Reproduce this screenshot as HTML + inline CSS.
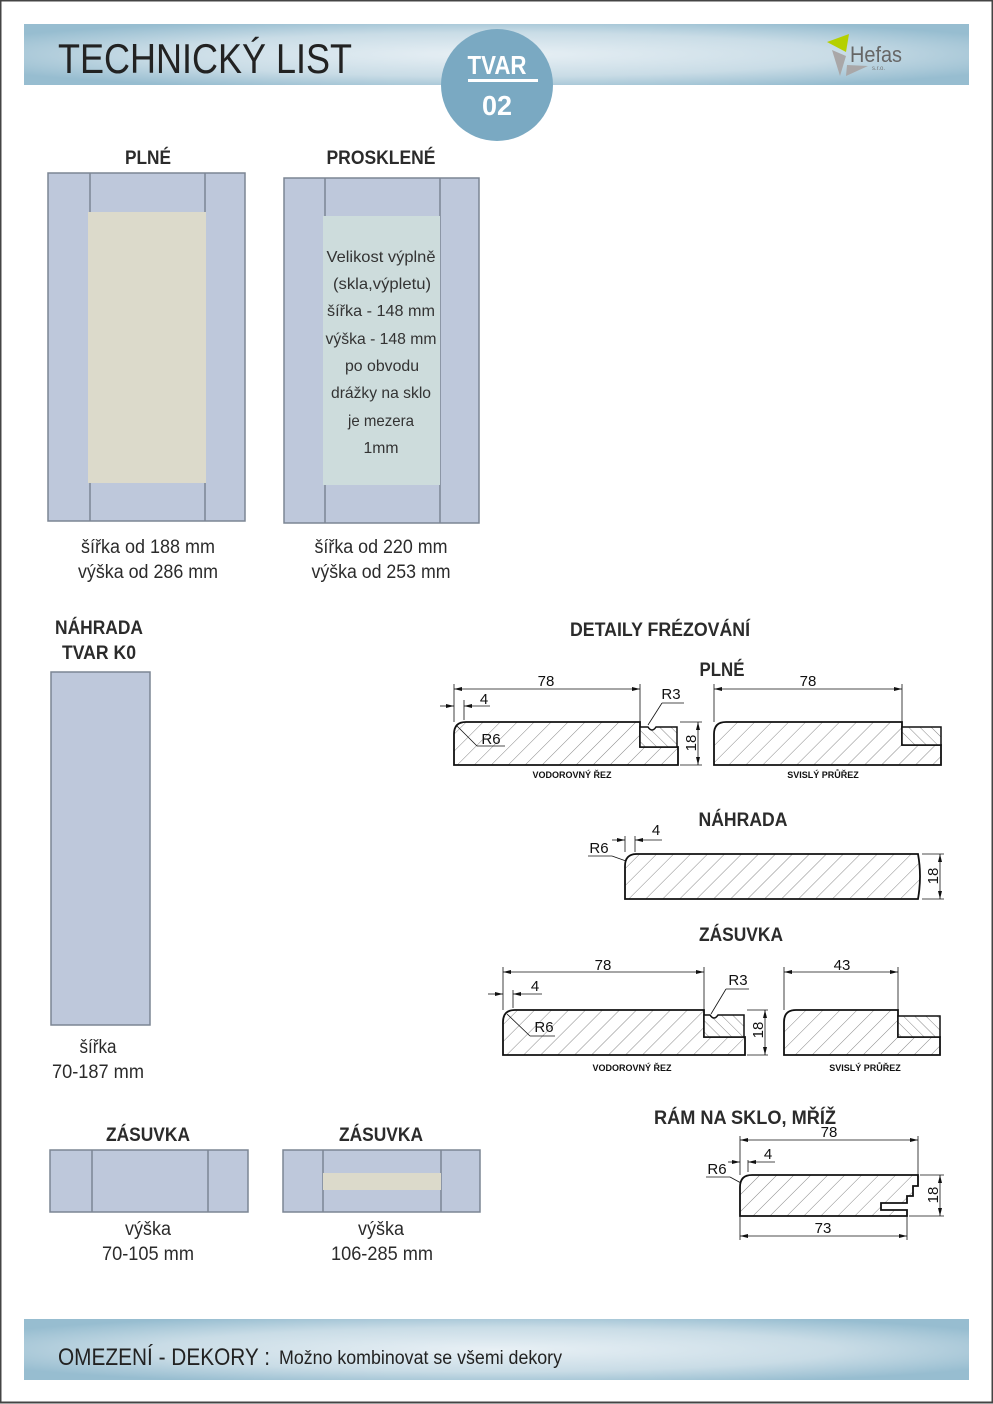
<!DOCTYPE html>
<html><head><meta charset="utf-8">
<style>
html,body{margin:0;padding:0;background:#fff;}
svg{display:block;}
text{font-family:"Liberation Sans Narrow","Liberation Sans",sans-serif;}
.h{font-weight:bold;fill:#2b2b2b;font-size:19px;}
.t{fill:#2b2b2b;font-size:19px;}
.d{font-family:"Liberation Sans",sans-serif;font-size:15px;fill:#111;}
.s{font-family:"Liberation Sans",sans-serif;font-size:9px;font-weight:bold;fill:#111;}
.p{stroke:#111;stroke-width:1.8;fill:url(#hat);}
.q{stroke:#111;stroke-width:1.5;fill:url(#hat2);}
.l{stroke:#111;stroke-width:0.8;fill:none;}
.fr{fill:#bec8db;stroke:#7c8594;stroke-width:1.5;}
.ln{stroke:#7c8594;stroke-width:1.5;}
</style></head><body>
<svg width="993" height="1404" viewBox="0 0 993 1404" xmlns="http://www.w3.org/2000/svg">
<defs>
<radialGradient id="bg" cx="0.5" cy="0.5" r="0.6">
<stop offset="0" stop-color="#e8f0f5"/><stop offset="0.6" stop-color="#c9dce6"/><stop offset="1" stop-color="#97bdd0"/></radialGradient>
<pattern id="hat" width="12" height="12" patternUnits="userSpaceOnUse" patternTransform="rotate(45)">
<rect width="12" height="12" fill="#fff"/><line x1="0" y1="0" x2="0" y2="12" stroke="#555" stroke-width="0.7"/></pattern>
<pattern id="hat2" width="8" height="8" patternUnits="userSpaceOnUse" patternTransform="rotate(-45)">
<rect width="8" height="8" fill="#fff"/><line x1="0" y1="0" x2="0" y2="8" stroke="#555" stroke-width="0.7"/></pattern>
<marker id="ar" markerWidth="8" markerHeight="6" refX="8" refY="3" orient="auto-start-reverse" markerUnits="userSpaceOnUse"><path d="M0,1 L8,3 L0,5z" fill="#111"/></marker>
</defs>
<rect x="0.5" y="0.5" width="992" height="1402" fill="#fff" stroke="#444" stroke-width="2"/>
<!-- header -->
<rect x="24" y="24" width="945" height="61" fill="url(#bg)"/>
<text x="58" y="73" font-size="42" fill="#222" textLength="294" lengthAdjust="spacingAndGlyphs">TECHNICKÝ LIST</text>
<ellipse cx="497" cy="85" rx="56" ry="56" fill="#7aa9c2"/>
<text x="497" y="74" text-anchor="middle" font-size="26" font-weight="bold" fill="#fff" textLength="59" lengthAdjust="spacingAndGlyphs">TVAR</text>
<rect x="468" y="79" width="70" height="3" fill="#fff"/>
<text x="497" y="115" text-anchor="middle" font-size="28" font-weight="bold" fill="#fff" textLength="30" lengthAdjust="spacingAndGlyphs">02</text>
<!-- logo -->
<polygon points="827,42 849,34 846,52" fill="#b5d000"/>
<polygon points="832,50 846,56 840,76" fill="#a9a7a8"/>
<polygon points="847,65 868,66 846,76" fill="#a9a7a8"/>
<text x="850" y="62" font-size="22" fill="#666" textLength="52" lengthAdjust="spacingAndGlyphs">Hefas</text>
<text x="872" y="70" font-size="6" fill="#777">s.r.o.</text>
<!-- footer -->
<rect x="24" y="1319" width="945" height="61" fill="url(#bg)"/>
<text x="58" y="1365" font-size="24" fill="#222" textLength="212" lengthAdjust="spacingAndGlyphs">OMEZENÍ - DEKORY :</text>
<text x="279" y="1364" font-size="19" fill="#222" textLength="283" lengthAdjust="spacingAndGlyphs">Možno kombinovat se všemi dekory</text>

<!-- doors -->
<text x="148" y="164" text-anchor="middle" class="h" textLength="46" lengthAdjust="spacingAndGlyphs">PLNÉ</text>
<text x="381" y="164" text-anchor="middle" class="h" textLength="109" lengthAdjust="spacingAndGlyphs">PROSKLENÉ</text>
<rect x="48" y="173" width="197" height="348" class="fr"/>
<line x1="90" y1="173" x2="90" y2="521" class="ln"/><line x1="205" y1="173" x2="205" y2="521" class="ln"/>
<rect x="88" y="212" width="118" height="271" fill="#dcdacb"/>
<rect x="284" y="178" width="195" height="345" class="fr"/>
<line x1="325" y1="178" x2="325" y2="523" class="ln"/><line x1="440" y1="178" x2="440" y2="523" class="ln"/>
<rect x="323" y="216" width="117" height="269" fill="#cddcdc"/>
<g font-size="16" fill="#333" text-anchor="middle" lengthAdjust="spacingAndGlyphs">
<text x="381" y="262" textLength="109" lengthAdjust="spacingAndGlyphs">Velikost výplně</text>
<text x="382" y="289" textLength="98" lengthAdjust="spacingAndGlyphs">(skla,výpletu)</text>
<text x="381" y="316" textLength="108" lengthAdjust="spacingAndGlyphs">šířka - 148 mm</text>
<text x="381" y="344" textLength="111" lengthAdjust="spacingAndGlyphs">výška - 148 mm</text>
<text x="382" y="371" textLength="74" lengthAdjust="spacingAndGlyphs">po obvodu</text>
<text x="381" y="398" textLength="100" lengthAdjust="spacingAndGlyphs">drážky na sklo</text>
<text x="381" y="426" textLength="66" lengthAdjust="spacingAndGlyphs">je mezera</text>
<text x="381" y="453" textLength="35" lengthAdjust="spacingAndGlyphs">1mm</text></g>
<g class="t" text-anchor="middle">
<text x="148" y="553" textLength="134" lengthAdjust="spacingAndGlyphs">šířka od 188 mm</text>
<text x="148" y="578" textLength="140" lengthAdjust="spacingAndGlyphs">výška od 286 mm</text>
<text x="381" y="553" textLength="133" lengthAdjust="spacingAndGlyphs">šířka od 220 mm</text>
<text x="381" y="578" textLength="139" lengthAdjust="spacingAndGlyphs">výška od 253 mm</text>
<text x="98" y="1053" textLength="37" lengthAdjust="spacingAndGlyphs">šířka</text>
<text x="98" y="1078" textLength="92" lengthAdjust="spacingAndGlyphs">70-187 mm</text>
<text x="148" y="1235" textLength="46" lengthAdjust="spacingAndGlyphs">výška</text>
<text x="148" y="1260" textLength="92" lengthAdjust="spacingAndGlyphs">70-105 mm</text>
<text x="381" y="1235" textLength="46" lengthAdjust="spacingAndGlyphs">výška</text>
<text x="382" y="1260" textLength="102" lengthAdjust="spacingAndGlyphs">106-285 mm</text></g>
<text x="99" y="634" text-anchor="middle" class="h" textLength="88" lengthAdjust="spacingAndGlyphs">NÁHRADA</text>
<text x="99" y="659" text-anchor="middle" class="h" textLength="74" lengthAdjust="spacingAndGlyphs">TVAR K0</text>
<rect x="51" y="672" width="99" height="353" class="fr"/>
<text x="148" y="1141" text-anchor="middle" class="h" textLength="84" lengthAdjust="spacingAndGlyphs">ZÁSUVKA</text>
<text x="381" y="1141" text-anchor="middle" class="h" textLength="84" lengthAdjust="spacingAndGlyphs">ZÁSUVKA</text>
<rect x="50" y="1150" width="198" height="62" class="fr"/>
<line x1="92" y1="1150" x2="92" y2="1212" class="ln"/><line x1="208" y1="1150" x2="208" y2="1212" class="ln"/>
<rect x="283" y="1150" width="197" height="62" class="fr"/>
<line x1="323" y1="1150" x2="323" y2="1212" class="ln"/><line x1="441" y1="1150" x2="441" y2="1212" class="ln"/>
<rect x="323" y="1173" width="118" height="17" fill="#dcdacb"/>

<!-- details -->
<text x="660" y="636" text-anchor="middle" class="h" textLength="180" lengthAdjust="spacingAndGlyphs">DETAILY FRÉZOVÁNÍ</text>
<text x="722" y="676" text-anchor="middle" class="h" textLength="45" lengthAdjust="spacingAndGlyphs">PLNÉ</text>
<!-- profile 1 -->
<path class="p" d="M454,765 L454,734 Q454,722 466,722 L640,722 L640,747 L678,747 L678,765 Z"/>
<path class="q" d="M640,727 L648,727 Q652,733 656,727 L677,727 L677,747 L640,747 Z"/>
<line class="l" x1="454" y1="684" x2="454" y2="722"/><line class="l" x1="640" y1="684" x2="640" y2="722"/>
<line class="l" x1="454" y1="689" x2="640" y2="689" marker-start="url(#ar)" marker-end="url(#ar)"/>
<text class="d" x="546" y="686" text-anchor="middle">78</text>
<line class="l" x1="440" y1="706" x2="454" y2="706" marker-end="url(#ar)"/>
<line class="l" x1="464" y1="706" x2="490" y2="706" marker-start="url(#ar)"/>
<line class="l" x1="464" y1="700" x2="464" y2="720"/>
<text class="d" x="484" y="704" text-anchor="middle">4</text>
<line class="l" x1="457" y1="726" x2="477" y2="746"/><line class="l" x1="477" y1="746" x2="505" y2="746"/>
<text class="d" x="491" y="744" text-anchor="middle">R6</text>
<line class="l" x1="648" y1="725" x2="662" y2="703"/><line class="l" x1="662" y1="703" x2="684" y2="703"/>
<text class="d" x="671" y="699" text-anchor="middle">R3</text>
<line class="l" x1="680" y1="722" x2="702" y2="722"/><line class="l" x1="680" y1="765" x2="702" y2="765"/>
<line class="l" x1="698" y1="722" x2="698" y2="765" marker-start="url(#ar)" marker-end="url(#ar)"/>
<text class="d" transform="translate(696,743) rotate(-90)" text-anchor="middle">18</text>
<text class="s" x="572" y="778" text-anchor="middle">VODOROVNÝ ŘEZ</text>
<!-- profile 2 -->
<path class="p" d="M714,765 L714,734 Q714,722 726,722 L902,722 L902,745 L941,745 L941,765 Z"/>
<rect class="q" x="902" y="727" width="39" height="18"/>
<line class="l" x1="714" y1="684" x2="714" y2="722"/><line class="l" x1="902" y1="684" x2="902" y2="722"/>
<line class="l" x1="714" y1="689" x2="902" y2="689" marker-start="url(#ar)" marker-end="url(#ar)"/>
<text class="d" x="808" y="686" text-anchor="middle">78</text>
<text class="s" x="823" y="778" text-anchor="middle">SVISLÝ PRŮŘEZ</text>
<!-- nahrada -->
<text x="743" y="826" text-anchor="middle" class="h" textLength="89" lengthAdjust="spacingAndGlyphs">NÁHRADA</text>
<path class="p" d="M625,899 L625,866 Q625,854 637,854 L918,854 Q922,876 918,899 Z"/>
<line class="l" x1="625" y1="836" x2="625" y2="852"/><line class="l" x1="635" y1="836" x2="635" y2="852"/>
<line class="l" x1="612" y1="840" x2="625" y2="840" marker-end="url(#ar)"/>
<line class="l" x1="635" y1="840" x2="662" y2="840" marker-start="url(#ar)"/>
<text class="d" x="656" y="835" text-anchor="middle">4</text>
<text class="d" x="599" y="853" text-anchor="middle">R6</text>
<line class="l" x1="588" y1="856" x2="612" y2="856"/><line class="l" x1="612" y1="856" x2="626" y2="861"/>
<line class="l" x1="922" y1="854" x2="944" y2="854"/><line class="l" x1="922" y1="899" x2="944" y2="899"/>
<line class="l" x1="940" y1="854" x2="940" y2="899" marker-start="url(#ar)" marker-end="url(#ar)"/>
<text class="d" transform="translate(938,876) rotate(-90)" text-anchor="middle">18</text>
<!-- zasuvka -->
<text x="741" y="941" text-anchor="middle" class="h" textLength="84" lengthAdjust="spacingAndGlyphs">ZÁSUVKA</text>
<path class="p" d="M503,1055 L503,1022 Q503,1010 515,1010 L704,1010 L704,1037 L745,1037 L745,1055 Z"/>
<path class="q" d="M704,1015 L710,1015 Q714,1021 718,1015 L744,1015 L744,1037 L704,1037 Z"/>
<line class="l" x1="503" y1="967" x2="503" y2="1010"/><line class="l" x1="704" y1="967" x2="704" y2="1010"/>
<line class="l" x1="503" y1="972" x2="704" y2="972" marker-start="url(#ar)" marker-end="url(#ar)"/>
<text class="d" x="603" y="970" text-anchor="middle">78</text>
<line class="l" x1="488" y1="994" x2="503" y2="994" marker-end="url(#ar)"/>
<line class="l" x1="513" y1="994" x2="542" y2="994" marker-start="url(#ar)"/>
<line class="l" x1="513" y1="990" x2="513" y2="1008"/>
<text class="d" x="535" y="991" text-anchor="middle">4</text>
<line class="l" x1="507" y1="1014" x2="530" y2="1036"/><line class="l" x1="530" y1="1036" x2="555" y2="1036"/>
<text class="d" x="544" y="1032" text-anchor="middle">R6</text>
<line class="l" x1="711" y1="1014" x2="726" y2="989"/><line class="l" x1="726" y1="989" x2="749" y2="989"/>
<text class="d" x="738" y="985" text-anchor="middle">R3</text>
<line class="l" x1="747" y1="1010" x2="768" y2="1010"/><line class="l" x1="747" y1="1055" x2="768" y2="1055"/>
<line class="l" x1="765" y1="1010" x2="765" y2="1055" marker-start="url(#ar)" marker-end="url(#ar)"/>
<text class="d" transform="translate(763,1030) rotate(-90)" text-anchor="middle">18</text>
<text class="s" x="632" y="1071" text-anchor="middle">VODOROVNÝ ŘEZ</text>
<path class="p" d="M784,1055 L784,1022 Q784,1010 796,1010 L898,1010 L898,1037 L940,1037 L940,1055 Z"/>
<rect class="q" x="898" y="1016" width="42" height="21"/>
<line class="l" x1="784" y1="967" x2="784" y2="1010"/><line class="l" x1="898" y1="967" x2="898" y2="1010"/>
<line class="l" x1="784" y1="972" x2="898" y2="972" marker-start="url(#ar)" marker-end="url(#ar)"/>
<text class="d" x="842" y="970" text-anchor="middle">43</text>
<text class="s" x="865" y="1071" text-anchor="middle">SVISLÝ PRŮŘEZ</text>
<!-- ram -->
<text x="654" y="1124" class="h" textLength="182" lengthAdjust="spacingAndGlyphs">RÁM NA SKLO, MŘÍŽ</text>
<path class="p" d="M740,1216 L740,1187 Q740,1175 752,1175 L918,1175 L918,1186 L913,1186 L913,1196 L907,1196 L907,1203 L881,1203 L881,1210 L907,1210 L907,1216 Z"/>
<line class="l" x1="740" y1="1136" x2="740" y2="1175"/><line class="l" x1="918" y1="1136" x2="918" y2="1175"/>
<line class="l" x1="740" y1="1140" x2="918" y2="1140" marker-start="url(#ar)" marker-end="url(#ar)"/>
<text class="d" x="829" y="1137" text-anchor="middle">78</text>
<line class="l" x1="748" y1="1160" x2="748" y2="1172"/>
<line class="l" x1="728" y1="1162" x2="740" y2="1162" marker-end="url(#ar)"/>
<line class="l" x1="748" y1="1162" x2="775" y2="1162" marker-start="url(#ar)"/>
<text class="d" x="768" y="1159" text-anchor="middle">4</text>
<text class="d" x="717" y="1174" text-anchor="middle">R6</text>
<line class="l" x1="706" y1="1177" x2="730" y2="1177"/><line class="l" x1="730" y1="1177" x2="741" y2="1183"/>
<line class="l" x1="920" y1="1175" x2="944" y2="1175"/><line class="l" x1="909" y1="1216" x2="944" y2="1216"/>
<line class="l" x1="940" y1="1175" x2="940" y2="1216" marker-start="url(#ar)" marker-end="url(#ar)"/>
<text class="d" transform="translate(938,1195) rotate(-90)" text-anchor="middle">18</text>
<line class="l" x1="740" y1="1216" x2="740" y2="1240"/><line class="l" x1="907" y1="1216" x2="907" y2="1240"/>
<line class="l" x1="740" y1="1236" x2="907" y2="1236" marker-start="url(#ar)" marker-end="url(#ar)"/>
<text class="d" x="823" y="1233" text-anchor="middle">73</text>
</svg>
</body></html>
